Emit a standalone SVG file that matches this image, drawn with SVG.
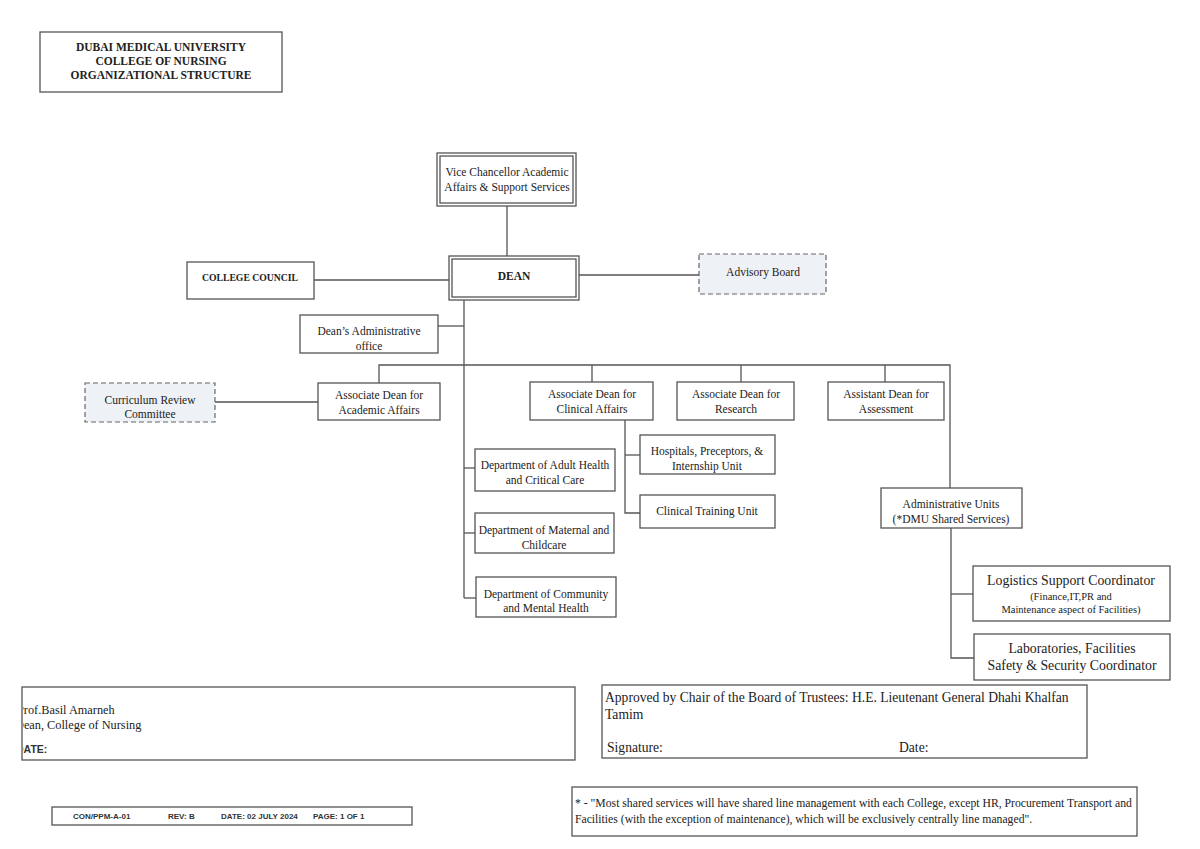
<svg xmlns="http://www.w3.org/2000/svg" width="1200" height="849" viewBox="0 0 1200 849">
<style>
.box{fill:#fff;stroke:#555;stroke-width:1.3}
.dash{fill:#eef1f5;stroke:#666;stroke-width:1.2;stroke-dasharray:5,3}
.t{font-family:"Liberation Serif","Times New Roman",serif;font-size:11.5px;fill:#222;text-anchor:middle}
.b{font-weight:bold}
.l{text-anchor:start}
.c{stroke:#555;stroke-width:1.3;fill:none}
.s{font-family:"Liberation Sans",Arial,sans-serif;font-size:8px;font-weight:bold;fill:#333}
.big{font-size:13.8px}
.sm{font-size:10.5px}
.ap{font-size:13.6px}
.nt{font-size:11.7px}
.sg{font-size:12.3px}
</style>
<defs>
<clipPath id="clipL"><rect x="23" y="680" width="560" height="90"/></clipPath>
</defs>
<rect width="1200" height="849" fill="#fff"/>

<g id="title">
<rect class="box" x="40" y="32" width="242" height="60"/>
<text class="t b" x="161" y="51">DUBAI MEDICAL UNIVERSITY</text>
<text class="t b" x="161" y="65">COLLEGE OF NURSING</text>
<text class="t b" x="161" y="79">ORGANIZATIONAL STRUCTURE</text>
</g>

<g id="connectors">
<path class="c" d="M507 206V256"/>
<path class="c" d="M314 280H449"/>
<path class="c" d="M579 275H699"/>
<path class="c" d="M464 300V598"/>
<path class="c" d="M438 326H464"/>
<path class="c" d="M379 383V365H950V488"/>
<path class="c" d="M592 365V382"/>
<path class="c" d="M741 365V382"/>
<path class="c" d="M885 365V382"/>
<path class="c" d="M215 402H318"/>
<path class="c" d="M625 420V513H640"/>
<path class="c" d="M625 455H640"/>
<path class="c" d="M464 468H475"/>
<path class="c" d="M464 533H475"/>
<path class="c" d="M464 598H476"/>
<path class="c" d="M951 528V658H974"/>
<path class="c" d="M951 594H973"/>
</g>

<g id="vc">
<rect class="box" x="437" y="153" width="139" height="53"/>
<rect class="box" x="440" y="156" width="133" height="47"/>
<text class="t" x="507" y="176">Vice Chancellor Academic</text>
<text class="t" x="507" y="191">Affairs &amp; Support Services</text>
</g>

<g id="dean">
<rect class="box" x="449" y="256" width="130" height="44"/>
<rect class="box" x="452" y="259" width="124" height="38"/>
<text class="t b" x="514" y="280">DEAN</text>
</g>

<g id="council">
<rect class="box" x="187" y="262" width="127" height="37"/>
<text class="t b" x="250" y="281" style="font-size:9.7px">COLLEGE COUNCIL</text>
</g>

<g id="advisory">
<rect class="dash" x="699" y="254" width="127" height="40"/>
<text class="t" x="763" y="276">Advisory Board</text>
</g>

<g id="adminoffice">
<rect class="box" x="300" y="315" width="138" height="38"/>
<text class="t" x="369" y="335">Dean’s Administrative</text>
<text class="t" x="369" y="350">office</text>
</g>

<g id="curriculum">
<rect class="dash" x="85" y="383" width="130" height="39"/>
<text class="t" x="150" y="404">Curriculum Review</text>
<text class="t" x="150" y="418">Committee</text>
</g>

<g id="academic">
<rect class="box" x="318" y="383" width="122" height="37"/>
<text class="t" x="379" y="399">Associate Dean for</text>
<text class="t" x="379" y="414">Academic Affairs</text>
</g>

<g id="clinical">
<rect class="box" x="530" y="382" width="123" height="38"/>
<text class="t" x="592" y="398">Associate Dean for</text>
<text class="t" x="592" y="413">Clinical Affairs</text>
</g>

<g id="research">
<rect class="box" x="677" y="382" width="117" height="38"/>
<text class="t" x="736" y="398">Associate Dean for</text>
<text class="t" x="736" y="413">Research</text>
</g>

<g id="assessment">
<rect class="box" x="828" y="382" width="116" height="38"/>
<text class="t" x="886" y="398">Assistant Dean for</text>
<text class="t" x="886" y="413">Assessment</text>
</g>

<g id="hospitals">
<rect class="box" x="640" y="435" width="135" height="39"/>
<text class="t" x="707" y="455">Hospitals, Preceptors, &amp;</text>
<text class="t" x="707" y="470">Internship Unit</text>
</g>

<g id="training">
<rect class="box" x="640" y="495" width="135" height="33"/>
<text class="t" x="707" y="515">Clinical Training Unit</text>
</g>

<g id="adult">
<rect class="box" x="475" y="449" width="140" height="42"/>
<text class="t" x="545" y="469">Department of Adult Health</text>
<text class="t" x="545" y="484">and Critical Care</text>
</g>

<g id="maternal">
<rect class="box" x="475" y="513" width="139" height="40"/>
<text class="t" x="544" y="534">Department of Maternal and</text>
<text class="t" x="544" y="549">Childcare</text>
</g>

<g id="community">
<rect class="box" x="476" y="577" width="140" height="40"/>
<text class="t" x="546" y="598">Department of Community</text>
<text class="t" x="546" y="612">and Mental Health</text>
</g>

<g id="adminunits">
<rect class="box" x="881" y="488" width="141" height="40"/>
<text class="t" x="951" y="508">Administrative Units</text>
<text class="t" x="951" y="523">(*DMU Shared Services)</text>
</g>

<g id="logistics">
<rect class="box" x="973" y="566" width="197" height="55"/>
<text class="t big" x="1071" y="585">Logistics Support Coordinator</text>
<text class="t sm" x="1071" y="600">(Finance,IT,PR and</text>
<text class="t sm" x="1071" y="613">Maintenance aspect of Facilities)</text>
</g>

<g id="labs">
<rect class="box" x="974" y="634" width="196" height="46"/>
<text class="t big" x="1072" y="653">Laboratories, Facilities</text>
<text class="t big" x="1072" y="670">Safety &amp; Security Coordinator</text>
</g>

<g id="signleft">
<rect class="box" x="22" y="687" width="553" height="73"/>
<g clip-path="url(#clipL)">
<text class="t l sg" x="17" y="714">Prof.Basil Amarneh</text>
<text class="t l sg" x="15" y="729">Dean, College of Nursing</text>
<text class="s" x="16" y="753" style="font-size:10.5px">DATE:</text>
</g>
</g>

<g id="approval">
<rect class="box" x="602" y="685" width="485" height="73"/>
<text class="t l ap" x="605" y="702">Approved by Chair of the Board of Trustees: H.E. Lieutenant General Dhahi Khalfan</text>
<text class="t l ap" x="605" y="719">Tamim</text>
<text class="t l ap" x="607" y="752">Signature:</text>
<text class="t l ap" x="899" y="752">Date:</text>
</g>

<g id="footer">
<rect class="box" x="52" y="807" width="360" height="18"/>
<text class="s" x="73" y="819">CON/PPM-A-01</text>
<text class="s" x="168" y="819">REV: B</text>
<text class="s" x="221" y="819">DATE: 02 JULY 2024</text>
<text class="s" x="313" y="819">PAGE: 1 OF 1</text>
</g>

<g id="note">
<rect class="box" x="572" y="787" width="565" height="49"/>
<text class="t l nt" x="575" y="807">* - "Most shared services will have shared line management with each College, except HR, Procurement Transport and</text>
<text class="t l nt" x="575" y="823">Facilities (with the exception of maintenance), which will be exclusively centrally line managed".</text>
</g>
</svg>
